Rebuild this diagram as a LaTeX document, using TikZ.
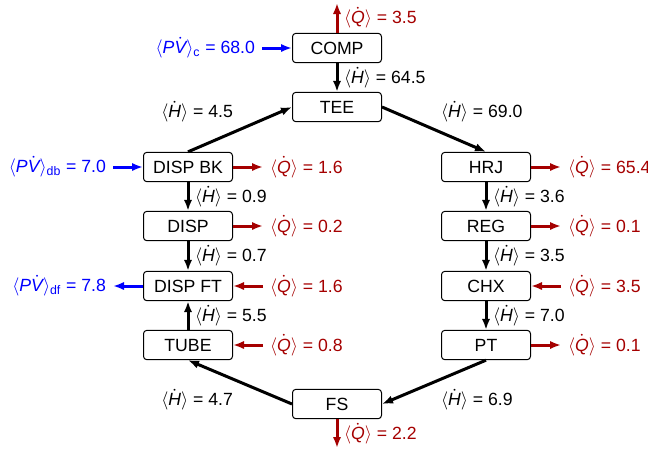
\documentclass[tikz,border=0pt]{standalone}
\usepackage{amsmath}
\usepackage{fontspec}
\setmainfont{Liberation Sans}
\usetikzlibrary{arrows.meta, positioning}
\definecolor{qRed}{RGB}{165,0,0}
\definecolor{qBlue}{RGB}{0,0,255}
\newcommand{\avgH}{$\langle\dot{\text{\itshape H}}\rangle$}
\newcommand{\avgQ}{$\langle\dot{\text{\itshape Q}}\rangle$}
\newcommand{\avgPV}[1]{$\langle\text{\itshape P}\dot{\text{\itshape V}}\rangle_{\text{#1}}$}

\begin{document}
\begin{tikzpicture}[x=0.6pt, y=-0.6pt, font=\fontsize{10.6}{12.7}\selectfont,
  blk/.style={draw, rounded corners=2pt, minimum width=53.4pt, minimum height=17.6pt, inner sep=0pt, line width=0.6pt},
  flow/.style={-{Latex[length=6.6pt,width=5pt]}, line width=1.8pt},
  heat/.style={flow, qRed},
  work/.style={flow, qBlue}]
  \useasboundingbox (0,0) rectangle (648,449);

  % blocks
  \node[blk] (comp)   at (337,48)  {COMP};
  \node[blk] (tee)    at (337,107) {TEE};
  \node[blk] (dispbk) at (188,167) {DISP BK};
  \node[blk] (disp)   at (188,226) {DISP};
  \node[blk] (dispft) at (188,286) {DISP FT};
  \node[blk] (tube)   at (188,345) {TUBE};
  \node[blk] (fs)     at (337,404) {FS};
  \node[blk] (hrj)    at (486,167) {HRJ};
  \node[blk] (reg)    at (486,226) {REG};
  \node[blk] (chx)    at (486,286) {CHX};
  \node[blk] (pt)     at (486,345) {PT};

  % free ends
  \coordinate (comp-q)   at (337,3);
  \coordinate (fs-q)     at (337,448);
  \coordinate (comp-w)   at (262,48);
  \coordinate (dispbk-w) at (113,167);
  \coordinate (dispft-w) at (113,286);
  \foreach \n in {dispbk, disp, dispft, tube, hrj, reg, chx, pt}
    \coordinate (\n-q) at ([xshift=18pt]\n.east);

  % enthalpy flow round the loop
  \draw[flow] (comp) -- (tee) node[midway, right] {\avgH{} = 64.5};
  \draw[flow] (dispbk.north) -- (tee.west) node[midway, above left] {\avgH{} = 4.5};
  \draw[flow] (tee.east) -- (hrj.north) node[midway, above right] {\avgH{} = 69.0};
  \foreach \a/\b/\v in {dispbk/disp/0.9, disp/dispft/0.7, tube/dispft/5.5,
                        hrj/reg/3.6, reg/chx/3.5, chx/pt/7.0}
    \draw[flow] (\a) -- (\b) node[midway, right] {\avgH{} = \v};
  \draw[flow] (fs.west) -- (tube.south) node[midway, below left] {\avgH{} = 4.7};
  \draw[flow] (pt.south) -- (fs.east) node[midway, below right] {\avgH{} = 6.9};

  % heat
  \draw[heat] (comp.north) -- (comp-q) node[midway, right] {\avgQ{} = 3.5};
  \draw[heat] (fs.south) -- (fs-q) node[midway, right] {\avgQ{} = 2.2};
  \foreach \n/\v in {dispbk/1.6, disp/0.2, hrj/65.4, reg/0.1, pt/0.1}
    \draw[heat] (\n.east) -- (\n-q) node[right] {\avgQ{} = \v};
  \foreach \n/\v in {dispft/1.6, tube/0.8, chx/3.5}
    \draw[heat] (\n-q) node[right] {\avgQ{} = \v} -- (\n.east);

  % work
  \draw[work] (comp-w) node[left] {\avgPV{c} = 68.0} -- (comp.west);
  \draw[work] (dispbk-w) node[left] {\avgPV{db} = 7.0} -- (dispbk.west);
  \draw[work] (dispft.west) -- (dispft-w) node[left] {\avgPV{df} = 7.8};
\end{tikzpicture}
\end{document}
